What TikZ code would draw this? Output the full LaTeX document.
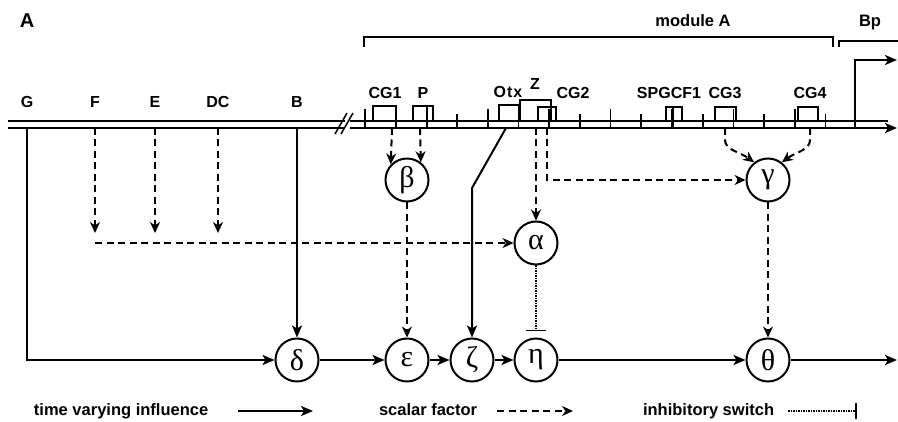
\documentclass[tikz,border=0pt]{standalone}
\usepackage{fontspec}
\setmainfont{Liberation Sans}
\newfontfamily\grk{Liberation Serif}
\usetikzlibrary{arrows.meta}
\begin{document}
\begin{tikzpicture}[x=1pt,y=-1pt,line width=2pt,
  every node/.style={inner sep=0pt},
  lab/.style={font=\bfseries\fontsize{16}{19}\selectfont,anchor=base},
  leg/.style={font=\bfseries\fontsize{16.5}{20}\selectfont,anchor=base west},
  gnode/.style={circle,draw,line width=2pt,minimum size=43pt,font=\grk\fontsize{30}{32}\selectfont},
  tv/.style={-{Stealth[length=12pt,width=10pt,inset=3pt]}},
  sf/.style={dash pattern=on 7pt off 4.5pt,-{Stealth[open,length=11pt,width=10pt,inset=3.5pt,line width=1.8pt]}},
  inh/.style={dash pattern=on 1.5pt off 1pt,line width=1.8pt,-{Bar[width=20pt,line width=1.8pt]}},
  bx/.style={line width=1.7pt},
  tick/.style={line width=1.7pt},
  brk/.style={line width=1.6pt}]
\useasboundingbox (0,0) rectangle (898,422);

% panel letter and bracket labels
\node[font=\bfseries\fontsize{20}{24}\selectfont,anchor=base] (A) at (27,28) {A};
\node[font=\bfseries\fontsize{16.5}{20}\selectfont,anchor=base] (modA) at (693,27) {module A};
\node[font=\bfseries\fontsize{16.5}{20}\selectfont,anchor=base] (Bp) at (870,27) {Bp};
\draw[brk] (364,47) -- (364,37) -- (833,37) -- (833,47);
\draw[brk] (839,47) -- (839,41) -- (898,41);

% DNA
\draw (8,121) -- (345,121);
\draw (8,128) -- (345,128);
\draw (350,121) -- (888,121);
\draw[tv] (350,128) -- (897,128);
\draw[line width=1.5pt] (335,134) -- (347,113);
\draw[line width=1.5pt] (341,134) -- (353,113);
\foreach \k in {0,...,15}{
  \pgfmathsetmacro{\xx}{365+30.7*\k}
  \ifodd\k
    \draw[tick] (\xx,114) -- (\xx,128);
  \else
    \draw[tick] (\xx,109) -- (\xx,128);
  \fi
}
% promoter arrow
\coordinate (bp0) at (855,128);
\coordinate (bp1) at (855,60);
\coordinate (bp2) at (897,60);
\draw[tv] (bp0) -- (bp1) -- (bp2);

% boxes
\draw[bx] (373,121) |- (396,106) -- (396,128);
\draw[bx] (413,121) |- (433,106) -- (433,121);
\draw[tick] (427,106) -- (427,128);
\draw[bx] (499,121) |- (519,105) -- (519,121);
\draw[bx] (520,121) |- (551,100) -- (551,121);
\draw[bx] (538,121) |- (556,107) -- (556,121);
\draw[bx] (666,121) |- (682,107) -- (682,121);
\draw[tick] (673,107) -- (673,128);
\draw[bx] (715,121) |- (736,107) -- (736,121);
\draw[bx] (798,121) |- (818,107) -- (818,121);

% site labels
\node[lab] (G) at (27,108) {G};
\node[lab] (F) at (95,108) {F};
\node[lab] (E) at (155,108) {E};
\node[lab] (DC) at (218,108) {DC};
\node[lab] (B) at (297,108) {B};
\node[lab] (CG1) at (385,99) {CG1};
\node[lab] (P) at (423,99) {P};
\node[lab] (Otx) at (508,98) {O\kern1pt t\kern1pt x};
\node[lab] (Z) at (535,90) {Z};
\node[lab] (CG2) at (573,99) {CG2};
\node[lab] (SPG) at (669,99) {SPGCF1};
\node[lab] (CG3) at (725,99) {CG3};
\node[lab] (CG4) at (810,99) {CG4};

% module nodes
\node[gnode] (beta) at (407,180) {β};
\node[gnode] (gamma) at (768,180) {γ};
\node[gnode] (alpha) at (536,243) {α};
\node[gnode] (delta) at (297,360) {δ};
\node[gnode] (eps) at (407,360) {ε};
\node[gnode] (zeta) at (472,360) {ζ};
\node[gnode] (eta) at (536,360) {η};
\node[gnode] (theta) at (768,360) {θ};

% source coordinates on DNA
\coordinate (sG) at (27,128);
\coordinate (sF) at (95,128);
\coordinate (sE) at (155,128);
\coordinate (sDC) at (218,128);
\coordinate (sB) at (297,128);
\coordinate (sCG1) at (392,128);
\coordinate (sP) at (420,128);
\coordinate (sOtx) at (506,128);
\coordinate (kOtx) at (472,188);
\coordinate (sZ) at (536,128);
\coordinate (sCG2) at (547,128);
\coordinate (sCG3) at (725,128);
\coordinate (sCG4) at (810,128);
\coordinate (eF) at (95,233);
\coordinate (eE) at (155,233);
\coordinate (eDC) at (218,233);
\coordinate (hF) at (95,243);
\coordinate (out) at (897,360);

% time varying influences
\draw[tv] (sG) |- (delta);
\draw[tv] (sB) -- (delta);
\draw[tv] (sOtx) -- (kOtx) -- (zeta);
\draw[tv] (delta) -- (eps);
\draw[tv] (eps) -- (zeta);
\draw[tv] (zeta) -- (eta);
\draw[tv] (eta) -- (theta);
\draw[tv] (theta) -- (out);

% scalar factors
\draw[sf] (sF) -- (eF);
\draw[sf] (sE) -- (eE);
\draw[sf] (sDC) -- (eDC);
\draw[sf] (hF) -- (alpha);
\draw[sf] (sCG1) -- (beta.136);
\draw[sf] (sP) -- (beta.52);
\draw[sf] (sZ) -- (alpha);
\draw[sf] (sCG2) |- (gamma);
\draw[sf] (sCG3) -- (725,140) .. controls (725,150) and (740,152) .. (gamma.128);
\draw[sf] (sCG4) -- (810,140) .. controls (810,150) and (796,152) .. (gamma.52);
\draw[sf] (beta) -- (eps);
\draw[sf] (gamma) -- (theta);

% inhibitory switch
\draw[inh,shorten >=6pt] (alpha) -- (eta);

% legend
\node[leg] (l1) at (33,416) {time varying influence};
\node[leg] (l2) at (378,416) {scalar factor};
\node[leg] (l3) at (642,416) {inhibitory switch};
\coordinate (a1) at (238,411);
\coordinate (b1) at (313,411);
\coordinate (a2) at (497,411);
\coordinate (b2) at (573,411);
\coordinate (a3) at (788,411);
\coordinate (b3) at (857,411);
\draw[tv] (a1) -- (b1);
\draw[sf] (a2) -- (b2);
\draw[dash pattern=on 1.5pt off 1pt,line width=1.8pt,-{Bar[width=16pt,line width=1.8pt]}] (a3) -- (b3);
\end{tikzpicture}
\end{document}
